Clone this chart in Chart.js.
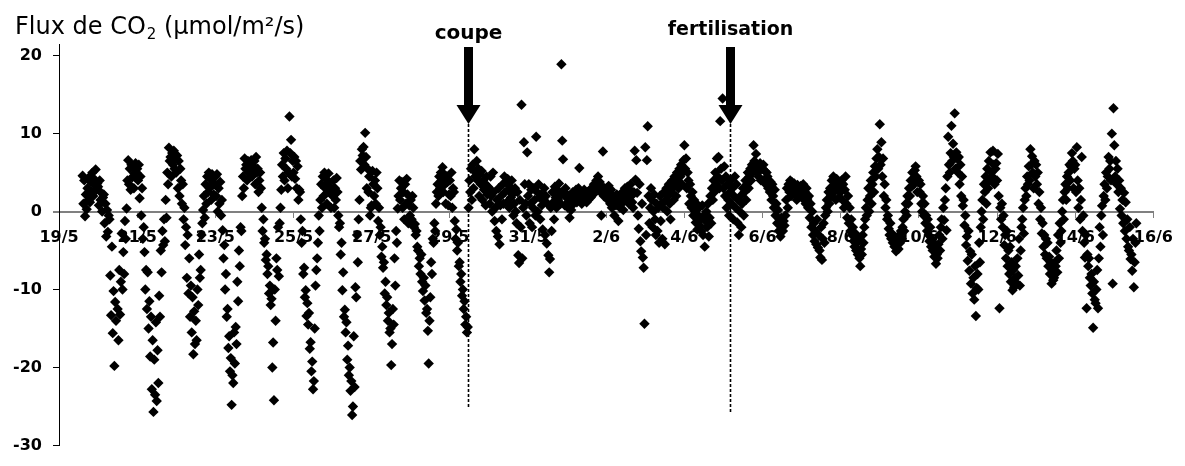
<!DOCTYPE html>
<html><head><meta charset="utf-8">
<script src="https://cdn.jsdelivr.net/npm/chart.js@4"></script>
<style>html,body{margin:0;padding:0;background:#fff;overflow:hidden}#wrap{width:1185px;height:466px;position:relative}</style>
</head><body><div id="wrap"><canvas id="c" width="1185" height="466"></canvas></div>
<script>
// ---- data (half-hourly CO2 flux, µmol/m²/s, 48 slots per day) ----
const xTickLabels = ['19/5','21/5','23/5','25/5','27/5','29/5','31/5','2/6','4/6','6/6','8/6','10/6','12/6','14/6','16/6'];
const xTickDays = [0,2,4,6,8,10,12,14,16,18,20,22,24,26,28];
const yTickValues = [-30,-20,-10,0,10,20];
const eventNames = ['coupe','fertilisation'];
const eventDays = [10.46, 17.18];

const may19 = [null,null,null,null,null,null,null,null,null,null,null,null,
 null,null,null,null,null,null,null,null,null,null,null,null,
 null,null,null,null,null,4.6,1.0,4.0,-0.6,2.2,0.3,3.0,
 1.5,4.4,1.2,3.8,2.6,5.0,2.0,4.2,3.4,5.4,2.8,3.6];
const may20 = [3.2,0.8,4.0,1.5,2.4,0.0,1.8,2.2,-1.5,1.0,-3.2,0.2,
 -2.6,-0.5,-1.0,-8.2,-13.3,-4.5,-15.6,-10.2,-19.8,-11.6,-14.0,null,
 -12.5,-16.5,-7.5,-13.2,-9.0,-2.8,-10.0,-5.2,-8.0,-1.2,-3.5,0.4,
 4.0,6.6,3.5,5.5,2.8,6.0,4.4,5.8,3.0,4.9,6.2,5.0];
const may21 = [5.5,4.0,6.0,1.7,4.5,-0.5,3.0,-3.5,-2.0,-5.2,-10.0,-7.5,
 -12.5,-7.8,-15.0,-11.5,-18.6,-13.5,-22.8,-16.5,-25.7,-19.0,-23.5,-14.2,
 -24.3,-17.8,-22.0,-10.8,-13.5,-5.0,-7.8,-2.5,-4.3,-1.0,-3.8,1.5,
 -0.8,5.0,3.5,8.2,6.5,7.0,4.5,7.5,6.0,7.8,5.5,6.8];
const may22 = [5.0,7.2,3.0,6.5,2.0,5.5,4.0,1.0,3.5,-1.0,0.5,-4.3,
 -2.0,-8.5,-3.0,-10.5,-6.0,-13.5,-9.5,-15.5,-11.0,-18.3,-12.8,-17.0,
 -14.0,-16.5,-10.0,-12.0,-5.5,-8.5,-7.5,-3.0,-1.5,0.2,2.0,-0.8,
 3.5,1.0,4.5,2.5,5.0,3.0,4.2,1.5,4.8,3.8,2.2,3.5];
const may23 = [4.5,2.0,4.8,0.0,3.0,1.0,3.8,-0.5,1.5,-2.4,-6.0,-4.3,
 -10.0,-8.0,-13.5,-12.5,-17.5,-16.0,-20.5,-18.8,-24.8,-21.0,-22.0,-15.5,
 -19.5,-14.8,-17.0,-9.0,-11.5,-5.0,-7.0,-2.0,-2.5,2.0,4.5,3.0,
 6.8,5.5,6.0,4.0,6.5,5.0,6.2,5.8,6.6,4.5,5.2,5.8];
const may24 = [6.5,3.5,7.0,5.0,5.5,2.5,4.0,5.0,3.0,0.5,-2.5,-1.0,
 -4.0,-3.5,-6.2,-5.5,-8.0,-7.0,-10.5,-9.5,-12.0,-11.2,-20.0,-16.8,
 -24.2,-10.0,-14.0,-6.0,-7.5,-2.0,-8.3,-1.5,0.5,2.8,6.0,4.5,
 7.5,4.0,6.8,5.5,7.8,3.0,5.0,12.2,7.5,9.2,4.5,6.5];
const may25 = [5.0,7.0,4.2,6.5,3.0,5.8,1.5,2.8,2.5,-1.0,-4.0,-2.5,
 -8.0,-7.2,-11.0,-10.1,-13.4,-11.75,-14.5,-13.0,-17.6,-16.75,-20.5,-19.25,
 -22.8,-21.75,-15.0,-9.5,-7.5,-6.0,-4.0,-0.5,-2.5,1.5,3.5,0.5,
 4.5,2.0,5.0,3.0,4.2,1.0,3.8,4.9,2.5,3.2,0.5,2.8];
const may26 = [2.0,4.0,0.5,3.0,1.5,4.3,2.5,-0.5,-2.0,-1.5,-5.5,-4.0,
 -10.1,-7.8,-13.5,-12.6,-15.5,-14.2,-19.0,-17.2,-21.0,-20.0,-23.0,-21.75,
 -26.1,-25.0,-16.0,-22.5,-9.7,-11.0,-3.0,-6.5,-1.0,1.5,6.5,5.4,
 8.0,7.2,8.3,6.0,10.1,7.0,3.0,5.5,2.5,4.5,-0.5,0.5];
const may27 = [0.8,5.2,3.5,2.0,4.0,1.0,5.0,3.0,-1.2,0.5,-3.0,-2.0,
 -5.8,-4.5,-7.2,-6.5,-10.5,-9.0,-12.0,-11.0,-14.0,-13.0,-15.5,-15.0,
 -19.7,-17.0,-12.5,-14.5,-6.0,-9.5,-2.5,-4.0,0.4,2.0,4.0,1.5,
 3.0,3.8,0.5,2.5,-1.0,3.5,1.0,4.2,2.2,-1.5,0.8,-0.5];
const may28 = [1.5,-1.0,2.0,0.5,-2.0,-1.6,-3.0,-2.5,-4.5,-5.0,-7.0,-6.0,
 -8.0,-5.5,-9.0,-10.2,-8.5,-11.4,-9.5,-13.0,-12.5,-15.3,-19.5,-14.0,
 -11.0,-6.5,-8.0,-3.5,-4.0,-1.5,-2.5,1.0,2.5,3.5,2.0,4.5,
 3.0,5.0,4.0,5.7,2.5,4.8,3.5,1.0,4.5,3.8,0.8,2.2];
const may29 = [4.0,2.0,5.0,0.5,3.0,2.5,-1.2,-3.5,-2.3,-5.0,-4.0,-7.0,
 -6.5,-9.0,-8.0,-10.8,-10.0,-12.5,-11.5,-14.5,-13.5,-15.5,-14.8,0.5,
 4.0,2.5,5.5,1.5,6.0,3.0,8.0,4.5,5.0,6.5,4.0,5.5,
 2.0,4.8,3.5,5.2,1.5,4.0,2.8,3.6,0.8,4.5,2.2,3.2];
const may30 = [3.0,1.0,4.5,2.0,0.0,5.0,2.5,-1.2,0.5,-2.5,1.5,-3.2,
 3.0,-4.2,0.8,2.0,-1.0,3.5,1.0,4.5,2.5,3.8,1.2,4.2,
 2.8,0.5,3.2,1.8,4.0,2.2,-0.5,1.0,3.0,0.0,-1.5,2.5,
 -5.6,-6.6,1.5,-2.0,13.7,-6.0,0.5,8.9,3.5,1.0,-0.5,7.6];
const may31 = [2.0,3.5,-1.5,1.0,2.8,-2.0,0.5,3.0,1.5,-0.5,9.6,2.5,
 0.0,3.5,1.8,-1.0,2.2,0.8,-2.3,1.5,3.0,-3.0,2.0,-4.1,
 1.0,-5.6,-7.8,-6.1,0.5,-2.5,2.5,1.2,-1.0,3.2,1.8,0.5,
 2.8,1.5,3.6,2.0,1.0,18.9,9.1,6.7,2.5,0.8,3.0,1.8];
const jun1 = [1.0,0.5,2.0,-0.8,1.5,0.2,1.8,2.5,1.0,2.2,1.5,2.8,
 1.2,2.0,3.0,5.6,1.8,2.5,1.0,2.0,1.5,2.8,1.8,2.2,
 1.2,2.5,1.5,2.0,2.8,1.8,2.5,3.0,2.2,3.5,2.8,3.2,
 4.0,3.5,4.5,3.0,3.8,2.5,-0.5,3.2,7.7,2.0,3.0,2.5];
const jun2 = [2.0,3.0,1.5,3.3,2.5,1.0,2.8,0.5,2.0,1.2,-0.5,1.8,
 0.8,2.2,1.0,-1.2,1.5,0.5,2.0,1.0,2.5,0.2,1.8,3.0,
 2.2,1.5,3.2,2.5,1.0,2.8,3.5,2.0,1.2,0.5,2.5,7.8,
 4.1,6.6,2.4,-0.5,-2.2,3.5,-3.8,-5.1,1.0,-5.9,-7.2,-14.4];
const jun3 = [8.25,-3.0,6.6,10.95,2.0,-1.5,0.5,3.0,1.5,-2.0,0.0,2.2,
 -1.0,-3.0,1.0,-2.5,0.5,-4.0,2.0,-1.2,1.0,-3.5,0.5,2.5,
 -4.2,1.5,3.0,0.0,2.0,3.5,1.0,-1.0,2.5,4.0,3.0,1.5,
 4.5,3.5,2.0,5.0,4.0,3.0,5.5,4.5,6.0,3.5,5.0,6.6];
const jun4 = [8.5,5.5,6.8,3.0,5.0,4.0,1.0,3.5,2.0,0.5,2.5,-0.5,
 1.5,0.0,-1.4,1.0,-2.3,-0.5,0.5,-1.8,-1.0,-2.5,0.8,-3.0,
 -0.5,-4.5,-1.2,0.0,-2.0,1.0,-3.2,-0.8,2.0,-1.5,3.0,1.5,
 4.0,2.5,5.0,3.5,6.8,4.5,7.0,3.0,11.6,5.5,4.0,14.5];
const jun5 = [3.0,5.8,2.0,4.5,0.5,3.5,1.5,-0.5,2.5,4.0,1.0,3.0,
 -1.0,2.0,4.5,0.5,3.5,-1.4,1.5,-3.0,0.0,2.0,-2.0,1.0,
 3.0,-0.5,2.5,4.0,1.5,3.5,5.0,3.0,4.5,5.5,4.0,6.0,
 5.0,8.5,6.5,5.5,7.4,6.0,5.0,4.5,5.75,6.2,4.0,5.5];
const jun6 = [5.5,6.0,4.0,5.2,3.5,5.0,4.5,3.0,4.0,2.5,3.8,1.5,
 3.5,2.0,0.5,2.8,-0.5,1.0,-1.5,0.2,-2.5,-1.0,-3.2,-0.8,
 -2.0,-2.5,-1.2,-1.8,-0.5,1.5,3.0,0.5,3.5,2.5,4.0,2.0,
 3.8,3.2,2.8,3.6,2.2,3.0,1.5,3.4,2.6,3.0,2.0,3.3];
const jun7 = [3.0,2.0,3.5,1.5,2.5,1.0,3.0,1.6,0.5,2.0,-0.8,1.0,
 -2.0,0.0,-3.0,-1.5,-3.8,-2.5,-4.2,-1.0,-4.6,-3.0,-5.0,-5.9,
 -2.0,-6.2,-3.5,-1.5,-4.0,-0.5,0.5,1.5,0.0,2.5,1.0,3.0,
 2.0,4.0,3.0,4.5,2.5,3.5,1.5,4.2,2.8,3.8,1.8,3.2];
const jun8 = [2.5,4.0,1.5,3.5,0.5,2.8,4.5,1.0,-0.8,2.0,-1.5,0.5,
 -2.5,-1.0,-3.0,-2.0,-3.8,-4.5,-2.8,-5.0,-4.0,-5.5,-3.5,-6.0,
 -7.0,-4.8,-5.5,-3.0,-4.0,-2.0,-1.0,0.5,-0.5,1.5,3.0,0.0,
 2.0,4.0,1.0,3.5,5.0,2.5,5.8,4.5,6.8,8.0,5.5,7.0];
const jun9 = [11.2,6.0,8.9,4.5,6.8,2.0,3.5,0.5,1.5,-1.0,-0.5,-2.2,
 -3.0,-1.5,-3.5,-2.8,-4.0,-3.2,-4.5,-3.8,-5.1,-4.2,-3.5,-4.8,
 -3.0,-4.0,-2.5,-3.5,-2.0,-1.0,-2.5,0.0,1.0,-0.5,2.0,1.0,
 3.0,2.0,4.0,3.2,5.0,4.2,3.5,5.3,5.8,4.5,2.5,3.8];
const jun10 = [4.0,2.5,3.5,1.0,0.0,2.0,-0.5,1.0,-1.5,-0.5,-2.5,-1.0,
 -3.0,-3.8,-2.0,-4.5,-3.5,-5.0,-4.0,-5.8,-4.5,-6.7,-5.5,-6.0,
 -4.2,-3.0,-5.0,-2.0,-1.0,-3.5,0.5,-1.1,1.5,3.0,-2.4,4.5,
 9.6,6.0,5.0,7.5,11.0,6.5,8.7,7.0,12.6,5.5,7.6,6.8];
const jun11 = [5.0,7.0,3.5,6.0,2.0,4.5,0.75,1.5,-1.75,-0.5,-4.3,-3.2,
 -6.3,-2.5,-7.6,-5.1,-9.25,-5.5,-10.5,-8.5,-11.3,-7.0,-13.4,-9.8,
 -8.0,-10.0,-4.0,-6.5,-2.0,0.0,1.5,-1.0,3.5,2.5,4.5,1.0,
 5.5,3.0,6.5,4.0,7.6,5.0,4.5,7.8,6.0,3.5,5.5,6.2];
const jun12 = [4.0,7.4,2.0,-12.4,0.5,-1.0,1.0,-2.0,-0.5,-4.3,-3.0,-6.0,
 -2.5,-7.0,-5.0,-8.0,-4.5,-9.0,-6.5,-10.1,-7.5,-9.7,-8.5,-7.0,
 -9.2,-6.0,-8.2,-3.5,-9.5,-5.0,-2.0,-1.0,0.5,-2.8,1.5,3.0,
 2.0,4.5,3.5,5.8,4.0,8.0,6.0,7.1,5.0,3.0,6.5,4.5];
const jun13 = [6.0,3.5,5.0,1.0,2.5,-1.0,0.5,-2.8,-1.5,-4.5,-3.0,-5.5,
 -3.5,-6.0,-4.0,-7.0,-5.8,-8.0,-6.5,-9.25,-7.5,-8.8,-8.5,-6.5,
 -7.0,-5.0,-7.8,-3.0,-6.0,-1.5,-4.0,-2.5,0.0,1.5,-1.0,2.5,
 3.5,1.5,4.5,3.0,5.0,6.0,4.0,5.75,7.5,6.5,3.0,5.5];
const jun14 = [6.0,2.5,8.25,4.0,0.5,3.0,-1.0,1.5,7.0,-2.5,-0.5,-4.0,
 -5.9,-3.0,-12.4,-5.5,-7.0,-6.0,-8.5,-9.5,-8.0,-10.5,-14.9,-9.0,
 -11.3,-11.75,-10.0,-7.5,-12.4,-6.0,-2.0,-4.5,-0.5,0.75,-3.0,2.0,
 3.5,1.5,5.0,3.0,4.5,7.0,5.5,6.5,4.0,10.0,-9.25,13.25];
const jun15 = [8.5,4.5,6.5,3.5,5.5,2.5,4.0,0.35,3.0,-0.5,1.5,-1.5,
 2.4,-2.5,1.2,-3.5,-1.0,-4.5,-5.0,-2.0,-6.1,-5.5,-7.6,-3.5,
 -9.7,-6.5,-4.0,-1.5];

const dailyFlux = [may19,may20,may21,may22,may23,may24,may25,may26,may27,may28,may29,may30,may31,
  jun1,jun2,jun3,jun4,jun5,jun6,jun7,jun8,jun9,jun10,jun11,jun12,jun13,jun14,jun15];

const points = [];
dailyFlux.forEach((vals, d) => vals.forEach((v, i) => {
  if (v !== null) points.push({x: d + i / 48, y: v});
}));

const FONT = '"DejaVu Sans", "Liberation Sans", Arial, sans-serif';

const titlePlugin = {
  id: 'titlePlugin',
  afterDraw(chart) {
    const ctx = chart.ctx;
    ctx.save();
    ctx.fillStyle = '#000';
    ctx.textAlign = 'left';
    ctx.textBaseline = 'alphabetic';
    ctx.font = '24px ' + FONT;
    const a = 'Flux de CO';
    ctx.fillText(a, 15, 34);
    let x = 15 + ctx.measureText(a).width + 1;
    ctx.font = '15px ' + FONT;
    ctx.fillText('2', x, 39);
    x += ctx.measureText('2').width;
    ctx.font = '24px ' + FONT;
    ctx.fillText(' (µmol/m²/s)', x, 34);
    ctx.restore();
  }
};

const eventPlugin = {
  id: 'eventPlugin',
  afterDatasetsDraw(chart) {
    const ctx = chart.ctx;
    const xs = chart.scales.x, ys = chart.scales.y;
    const labelSizes = [20, 19];
    const labelBase = [39, 35];
    const lineEnds = [-25.2, -25.8];
    ctx.save();
    ctx.fillStyle = '#000';
    ctx.strokeStyle = '#000';
    eventDays.forEach((d, k) => {
      const px = Math.round(xs.getPixelForValue(d)) + 0.5;
      ctx.font = 'bold ' + labelSizes[k] + 'px ' + FONT;
      ctx.textAlign = 'center';
      ctx.fillText(eventNames[k], px, labelBase[k]);
      ctx.fillRect(px - 4.5, 47, 9, 59);
      ctx.beginPath();
      ctx.moveTo(px - 12, 105);
      ctx.lineTo(px + 12, 105);
      ctx.lineTo(px, 124);
      ctx.closePath();
      ctx.fill();
      ctx.beginPath();
      ctx.setLineDash([3, 2]);
      ctx.lineWidth = 1.6;
      ctx.moveTo(px, 124);
      ctx.lineTo(px, ys.getPixelForValue(lineEnds[k]));
      ctx.stroke();
      ctx.setLineDash([]);
    });
    ctx.restore();
  }
};

new Chart(document.getElementById('c'), {
  type: 'scatter',
  data: {
    datasets: [{
      data: points,
      pointStyle: 'rectRot',
      pointRadius: 5.2,
      pointBorderWidth: 0,
      backgroundColor: '#000',
      borderColor: '#000',
      showLine: false
    }]
  },
  options: {
    responsive: false,
    devicePixelRatio: 1,
    animation: false,
    layout: {padding: {top: 44, right: 21, bottom: 6, left: 0}},
    plugins: {legend: {display: false}, tooltip: {enabled: false}, title: {display: false}},
    scales: {
      x: {
        type: 'linear',
        position: {y: 0},
        min: 0, max: 28,
        afterBuildTicks(scale) { scale.ticks = xTickDays.map(v => ({value: v})); },
        ticks: {
          autoSkip: false, maxRotation: 0, padding: 12,
          color: '#000',
          font: {family: FONT, weight: 'bold', size: 16},
          callback: (v, i) => xTickLabels[i]
        },
        grid: {drawOnChartArea: false, drawTicks: true, tickLength: 5, color: '#808080', lineWidth: 1},
        border: {display: true, color: '#808080', width: 2}
      },
      y: {
        type: 'linear',
        position: 'left',
        min: -30, max: 21.5,
        afterBuildTicks(scale) { scale.ticks = yTickValues.map(v => ({value: v})); },
        afterFit(scale) { scale.width = 59; },
        ticks: {
          padding: 11, color: '#000',
          font: {family: FONT, weight: 'bold', size: 16},
          callback: v => String(v)
        },
        grid: {
          drawOnChartArea: false, drawTicks: true, tickLength: 6,
          color: c => (c.tick && c.tick.value === 0) ? '#808080' : '#000',
          lineWidth: c => (c.tick && c.tick.value === 0) ? 2 : 1
        },
        border: {display: true, color: '#000', width: 1}
      }
    }
  },
  plugins: [titlePlugin, eventPlugin]
});
</script>
</body></html>
